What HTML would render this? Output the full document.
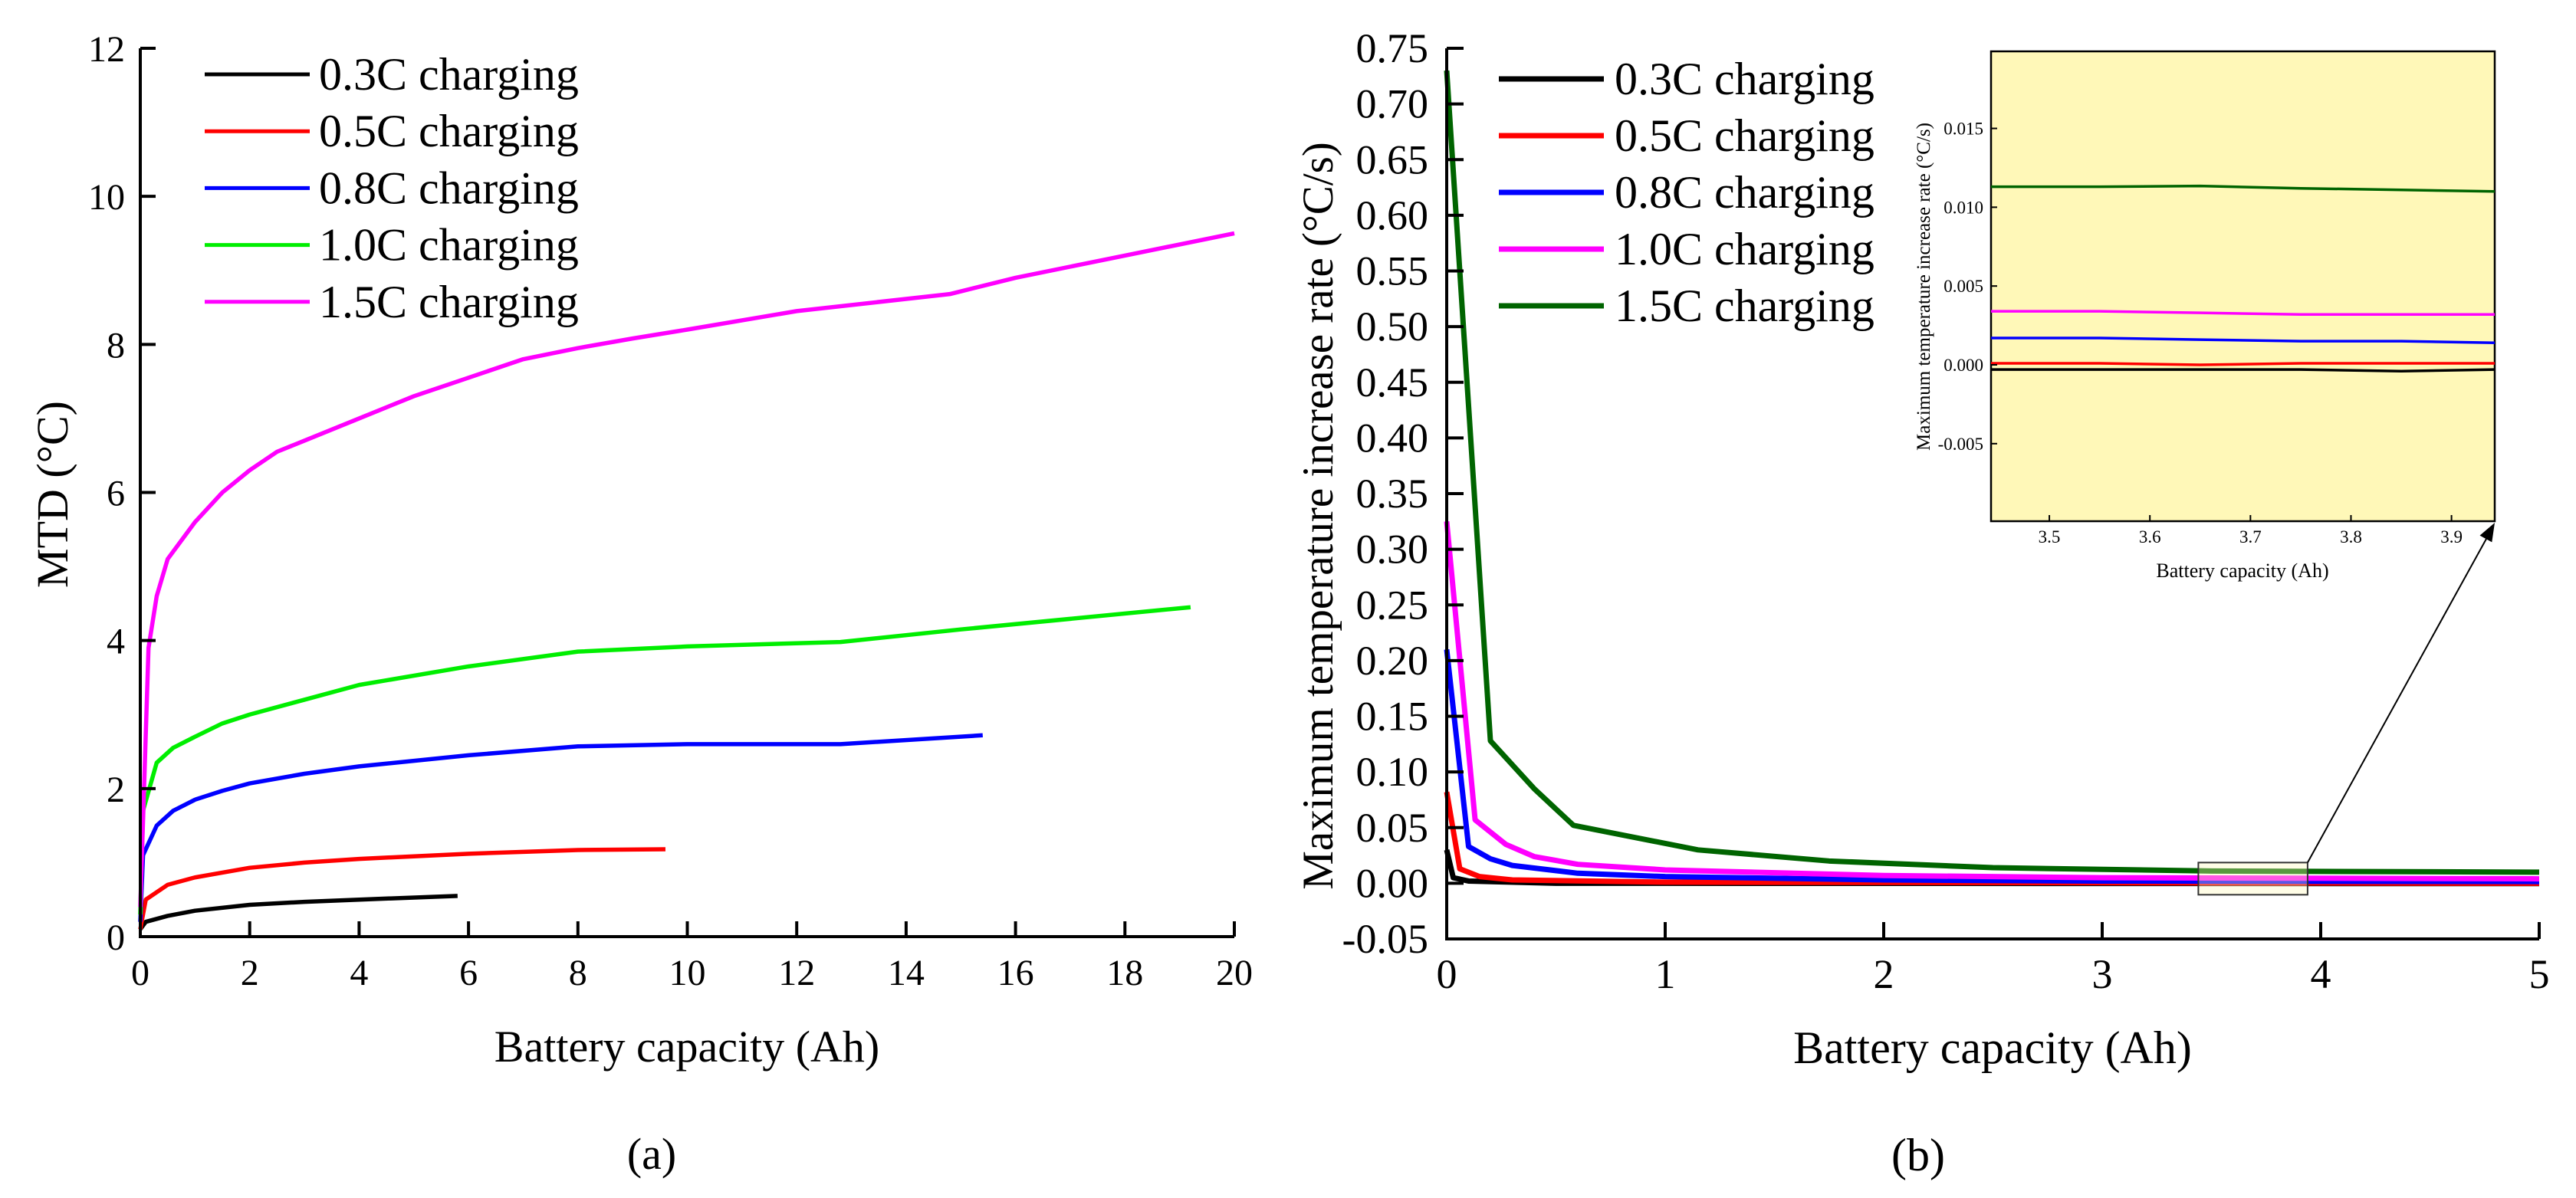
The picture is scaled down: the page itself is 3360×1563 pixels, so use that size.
<!DOCTYPE html>
<html><head><meta charset="utf-8"><style>
html,body{margin:0;padding:0;background:#fff;}
svg{display:block;font-family:"Liberation Serif",serif;}
</style></head><body>
<svg id="fig" width="3360" height="1563" viewBox="0 0 3360 1563" xmlns="http://www.w3.org/2000/svg">
<g id="ga"></g>
<g id="gb"></g>
</svg>
<script>
// ---- Chart (a) data ----
const aSeriesNames = ["0.3C charging","0.5C charging","0.8C charging","1.0C charging","1.5C charging"];
const aColors = ["#000000","#ff0000","#0000ff","#00ee00","#ff00ff"];
const aX03 = [0,0.1,0.5,1,2,3,4,5.8];
const aY03 = [0.1,0.2,0.28,0.35,0.43,0.47,0.5,0.55];
const aX05 = [0,0.1,0.5,1,2,3,4,6,8,9.6];
const aY05 = [0.1,0.5,0.7,0.8,0.93,1.0,1.05,1.12,1.17,1.18];
const aX08 = [0,0.05,0.3,0.6,1,1.5,2,3,4,6,8,10,12.8,15.4];
const aY08 = [0.2,1.1,1.5,1.7,1.85,1.97,2.07,2.2,2.3,2.45,2.57,2.6,2.6,2.72];
const aX10 = [0,0.05,0.3,0.6,1,1.5,2,3,4,6,8,10,12.8,15,19.2];
const aY10 = [0.3,1.7,2.35,2.55,2.7,2.88,3.0,3.2,3.4,3.65,3.85,3.92,3.98,4.15,4.45];
const aX15 = [0,0.15,0.3,0.5,0.75,1,1.5,2,2.5,3,4,5,6,7,8,9,10,12,14.8,16,18,20];
const aY15 = [0.4,3.9,4.6,5.1,5.35,5.6,6.0,6.3,6.55,6.7,7.0,7.3,7.55,7.8,7.95,8.08,8.2,8.45,8.68,8.9,9.2,9.5];
const aXTicks = [0,2,4,6,8,10,12,14,16,18,20];
const aYTicks = [0,2,4,6,8,10,12];

// ---- Chart (b) data ----
const bColors = ["#000000","#ff0000","#0000ff","#ff00ff","#006400"];
const bX03 = [0,0.03,0.1,0.5,5];
const bY03 = [0.03,0.005,0.002,0.0,-0.0003];
const bX05 = [0,0.06,0.15,0.3,1,5];
const bY05 = [0.082,0.013,0.006,0.003,0.001,0.0];
const bX08 = [0,0.1,0.2,0.3,0.6,1,2,3,5];
const bY08 = [0.21,0.033,0.022,0.016,0.009,0.006,0.003,0.002,0.0015];
const bX10 = [0,0.13,0.27,0.4,0.6,1,2,3,5];
const bY10 = [0.325,0.057,0.035,0.024,0.017,0.012,0.007,0.005,0.004];
const bX15 = [0,0.2,0.4,0.58,1.15,1.75,2.5,3.5,5];
const bY15 = [0.73,0.128,0.085,0.052,0.03,0.02,0.014,0.011,0.01];
const bXTicks = [0,1,2,3,4,5];
const bYTicks = [-0.05,0,0.05,0.1,0.15,0.2,0.25,0.3,0.35,0.4,0.45,0.5,0.55,0.6,0.65,0.7,0.75];

// ---- Inset data ----
const iX = [3.442,3.55,3.65,3.75,3.85,3.943];
const iY15 = [0.0113,0.0113,0.01135,0.0112,0.0111,0.0110];
const iY10 = [0.0034,0.0034,0.0033,0.0032,0.0032,0.0032];
const iY08 = [0.0017,0.0017,0.0016,0.0015,0.0015,0.0014];
const iY05 = [0.0001,0.0001,0.0,0.0001,0.0001,0.0001];
const iY03 = [-0.0003,-0.0003,-0.0003,-0.0003,-0.0004,-0.0003];
const iXTicks = [3.5,3.6,3.7,3.8,3.9];
const iYTicks = [-0.005,0,0.005,0.01,0.015];

const NS="http://www.w3.org/2000/svg";
function mk(parent,tag,attrs,text){const e=document.createElementNS(NS,tag);for(const k in attrs)e.setAttribute(k,attrs[k]);if(text!==undefined)e.textContent=text;parent.appendChild(e);return e;}

// ===== Chart a =====
const ga=document.getElementById('ga');
const ax=v=>183+v*(1610-183)/20;
const ay=v=>1222-v*(1222-63)/12;
const aXs=[aX03,aX05,aX08,aX10,aX15], aYs=[aY03,aY05,aY08,aY10,aY15];
for(let s=0;s<5;s++){
  const p=mk(ga,'polyline',{points:aXs[s].map((x,i)=>ax(x)+','+ay(aYs[s][i])).join(' '),fill:'none',stroke:aColors[s],'stroke-width':5.5,'stroke-linejoin':'round'});
  
  
}
let e=mk(ga,'path',{d:`M${ax(0)},${ay(12)} V${ay(0)} H${ax(20)}`,fill:'none',stroke:'#000','stroke-width':4});

aXTicks.forEach(t=>{
  mk(ga,'line',{x1:ax(t),x2:ax(t),y1:ay(0),y2:ay(0)-20,stroke:'#000','stroke-width':4});
  const l=mk(ga,'text',{x:ax(t),y:ay(0)+63,'font-size':48,'text-anchor':'middle'},String(t));
  
});
aYTicks.forEach(t=>{
  mk(ga,'line',{x1:ax(0),x2:ax(0)+20,y1:ay(t),y2:ay(t),stroke:'#000','stroke-width':4});
  const l=mk(ga,'text',{x:ax(0)-20,y:ay(t)+17,'font-size':48,'text-anchor':'end'},String(t));
  
});
for(let s=0;s<5;s++){
  const y=97+s*74.2;
  const g=mk(ga,'g',{});
  
  mk(g,'line',{x1:267,x2:404,y1:y,y2:y,stroke:aColors[s],'stroke-width':5});
  mk(g,'text',{x:416,y:y+20,'font-size':60},aSeriesNames[s]);
}
e=mk(ga,'text',{x:896,y:1385,'font-size':58,'text-anchor':'middle'},'Battery capacity (Ah)');

e=mk(ga,'text',{x:0,y:0,'font-size':58,'text-anchor':'middle',transform:'translate(88,645) rotate(-90)'},'MTD (°C)');

e=mk(ga,'text',{x:850,y:1525,'font-size':58,'text-anchor':'middle'},'(a)');


// ===== Chart b =====
const gb=document.getElementById('gb');
const bx=v=>1887+v*(3312-1887)/5;
const by=v=>1225-(v+0.05)*(1225-63)/0.8;
const bXs=[bX03,bX05,bX08,bX10,bX15], bYs=[bY03,bY05,bY08,bY10,bY15];
for(let s=0;s<5;s++){
  const p=mk(gb,'polyline',{points:bXs[s].map((x,i)=>bx(x)+','+by(bYs[s][i])).join(' '),fill:'none',stroke:bColors[s],'stroke-width':7,'stroke-linejoin':'round'});
  
  
}
e=mk(gb,'path',{d:`M${bx(0)},${by(0.75)} V${by(-0.05)} H${bx(5)}`,fill:'none',stroke:'#000','stroke-width':4});

bXTicks.forEach(t=>{
  mk(gb,'line',{x1:bx(t),x2:bx(t),y1:by(-0.05),y2:by(-0.05)-22,stroke:'#000','stroke-width':4});
  const l=mk(gb,'text',{x:bx(t),y:by(-0.05)+64,'font-size':54,'text-anchor':'middle'},String(t));
  
});
bYTicks.forEach(t=>{
  mk(gb,'line',{x1:bx(0),x2:bx(0)+22,y1:by(t),y2:by(t),stroke:'#000','stroke-width':4});
  const l=mk(gb,'text',{x:bx(0)-24,y:by(t)+18,'font-size':54,'text-anchor':'end'},t.toFixed(2));
  
});
for(let s=0;s<5;s++){
  const y=103+s*74;
  const g=mk(gb,'g',{});
  
  mk(g,'line',{x1:1955,x2:2092,y1:y,y2:y,stroke:bColors[s],'stroke-width':7});
  mk(g,'text',{x:2106,y:y+20,'font-size':60},aSeriesNames[s]);
}
e=mk(gb,'text',{x:2599,y:1387,'font-size':60,'text-anchor':'middle'},'Battery capacity (Ah)');

e=mk(gb,'text',{x:0,y:0,'font-size':57,'text-anchor':'middle',transform:'translate(1738,673) rotate(-90)'},'Maximum temperature increase rate (°C/s)');

e=mk(gb,'text',{x:2502,y:1527,'font-size':60,'text-anchor':'middle'},'(b)');


// zoom box + arrow
const zx0=3.44,zx1=3.94,zy0=-0.0103,zy1=0.0186;
e=mk(gb,'rect',{x:bx(zx0),y:by(zy1),width:bx(zx1)-bx(zx0),height:by(zy0)-by(zy1),fill:'#fff8b8','fill-opacity':0.35,stroke:'#333','stroke-width':2});


// ===== Inset =====
const IL=2597,IR=3254,IT=67,IB=680;
const ix=v=>IL+(v-3.442)*(IR-IL)/(3.943-3.442);
const iy=v=>IB-(v+0.00992)*(IB-IT)/(0.01989+0.00992);
e=mk(gb,'rect',{x:IL,y:IT,width:IR-IL,height:IB-IT,fill:'#fff8b8',stroke:'#000','stroke-width':2.5});

const iYs=[iY03,iY05,iY08,iY10,iY15];
for(let s=0;s<5;s++){
  const p=mk(gb,'polyline',{points:iX.map((x,i)=>ix(x)+','+iy(iYs[s][i])).join(' '),fill:'none',stroke:bColors[s],'stroke-width':3.5});
  
}
iXTicks.forEach(t=>{
  mk(gb,'line',{x1:ix(t),x2:ix(t),y1:IB,y2:IB-8,stroke:'#000','stroke-width':2});
  const l=mk(gb,'text',{x:ix(t),y:IB+28,'font-size':23,'text-anchor':'middle'},t.toFixed(1));
  
});
iYTicks.forEach(t=>{
  mk(gb,'line',{x1:IL,x2:IL+8,y1:iy(t),y2:iy(t),stroke:'#000','stroke-width':2});
  const l=mk(gb,'text',{x:IL-10,y:iy(t)+8,'font-size':23,'text-anchor':'end'},t.toFixed(3));
  
});
e=mk(gb,'text',{x:2925,y:753,'font-size':26,'text-anchor':'middle'},'Battery capacity (Ah)');

e=mk(gb,'text',{x:0,y:0,'font-size':25,'text-anchor':'middle',transform:'translate(2517,374) rotate(-90)'},'Maximum temperature increase rate (°C/s)');

// arrow
const ax0=bx(zx1), ay0=by(zy1), ax1=IR, ay1=IB+2;
e=mk(gb,'line',{x1:ax0,y1:ay0,x2:ax1-6,y2:ay1+12,stroke:'#000','stroke-width':2});

const ang=Math.atan2(ay1-ay0,ax1-ax0), L=24, W=9;
const bxp=ax1-L*Math.cos(ang), byp=ay1-L*Math.sin(ang);
const px=-Math.sin(ang)*W, py=Math.cos(ang)*W;
e=mk(gb,'polygon',{points:`${ax1},${ay1} ${bxp+px},${byp+py} ${bxp-px},${byp-py}`,fill:'#000'});

</script>
</body></html>
